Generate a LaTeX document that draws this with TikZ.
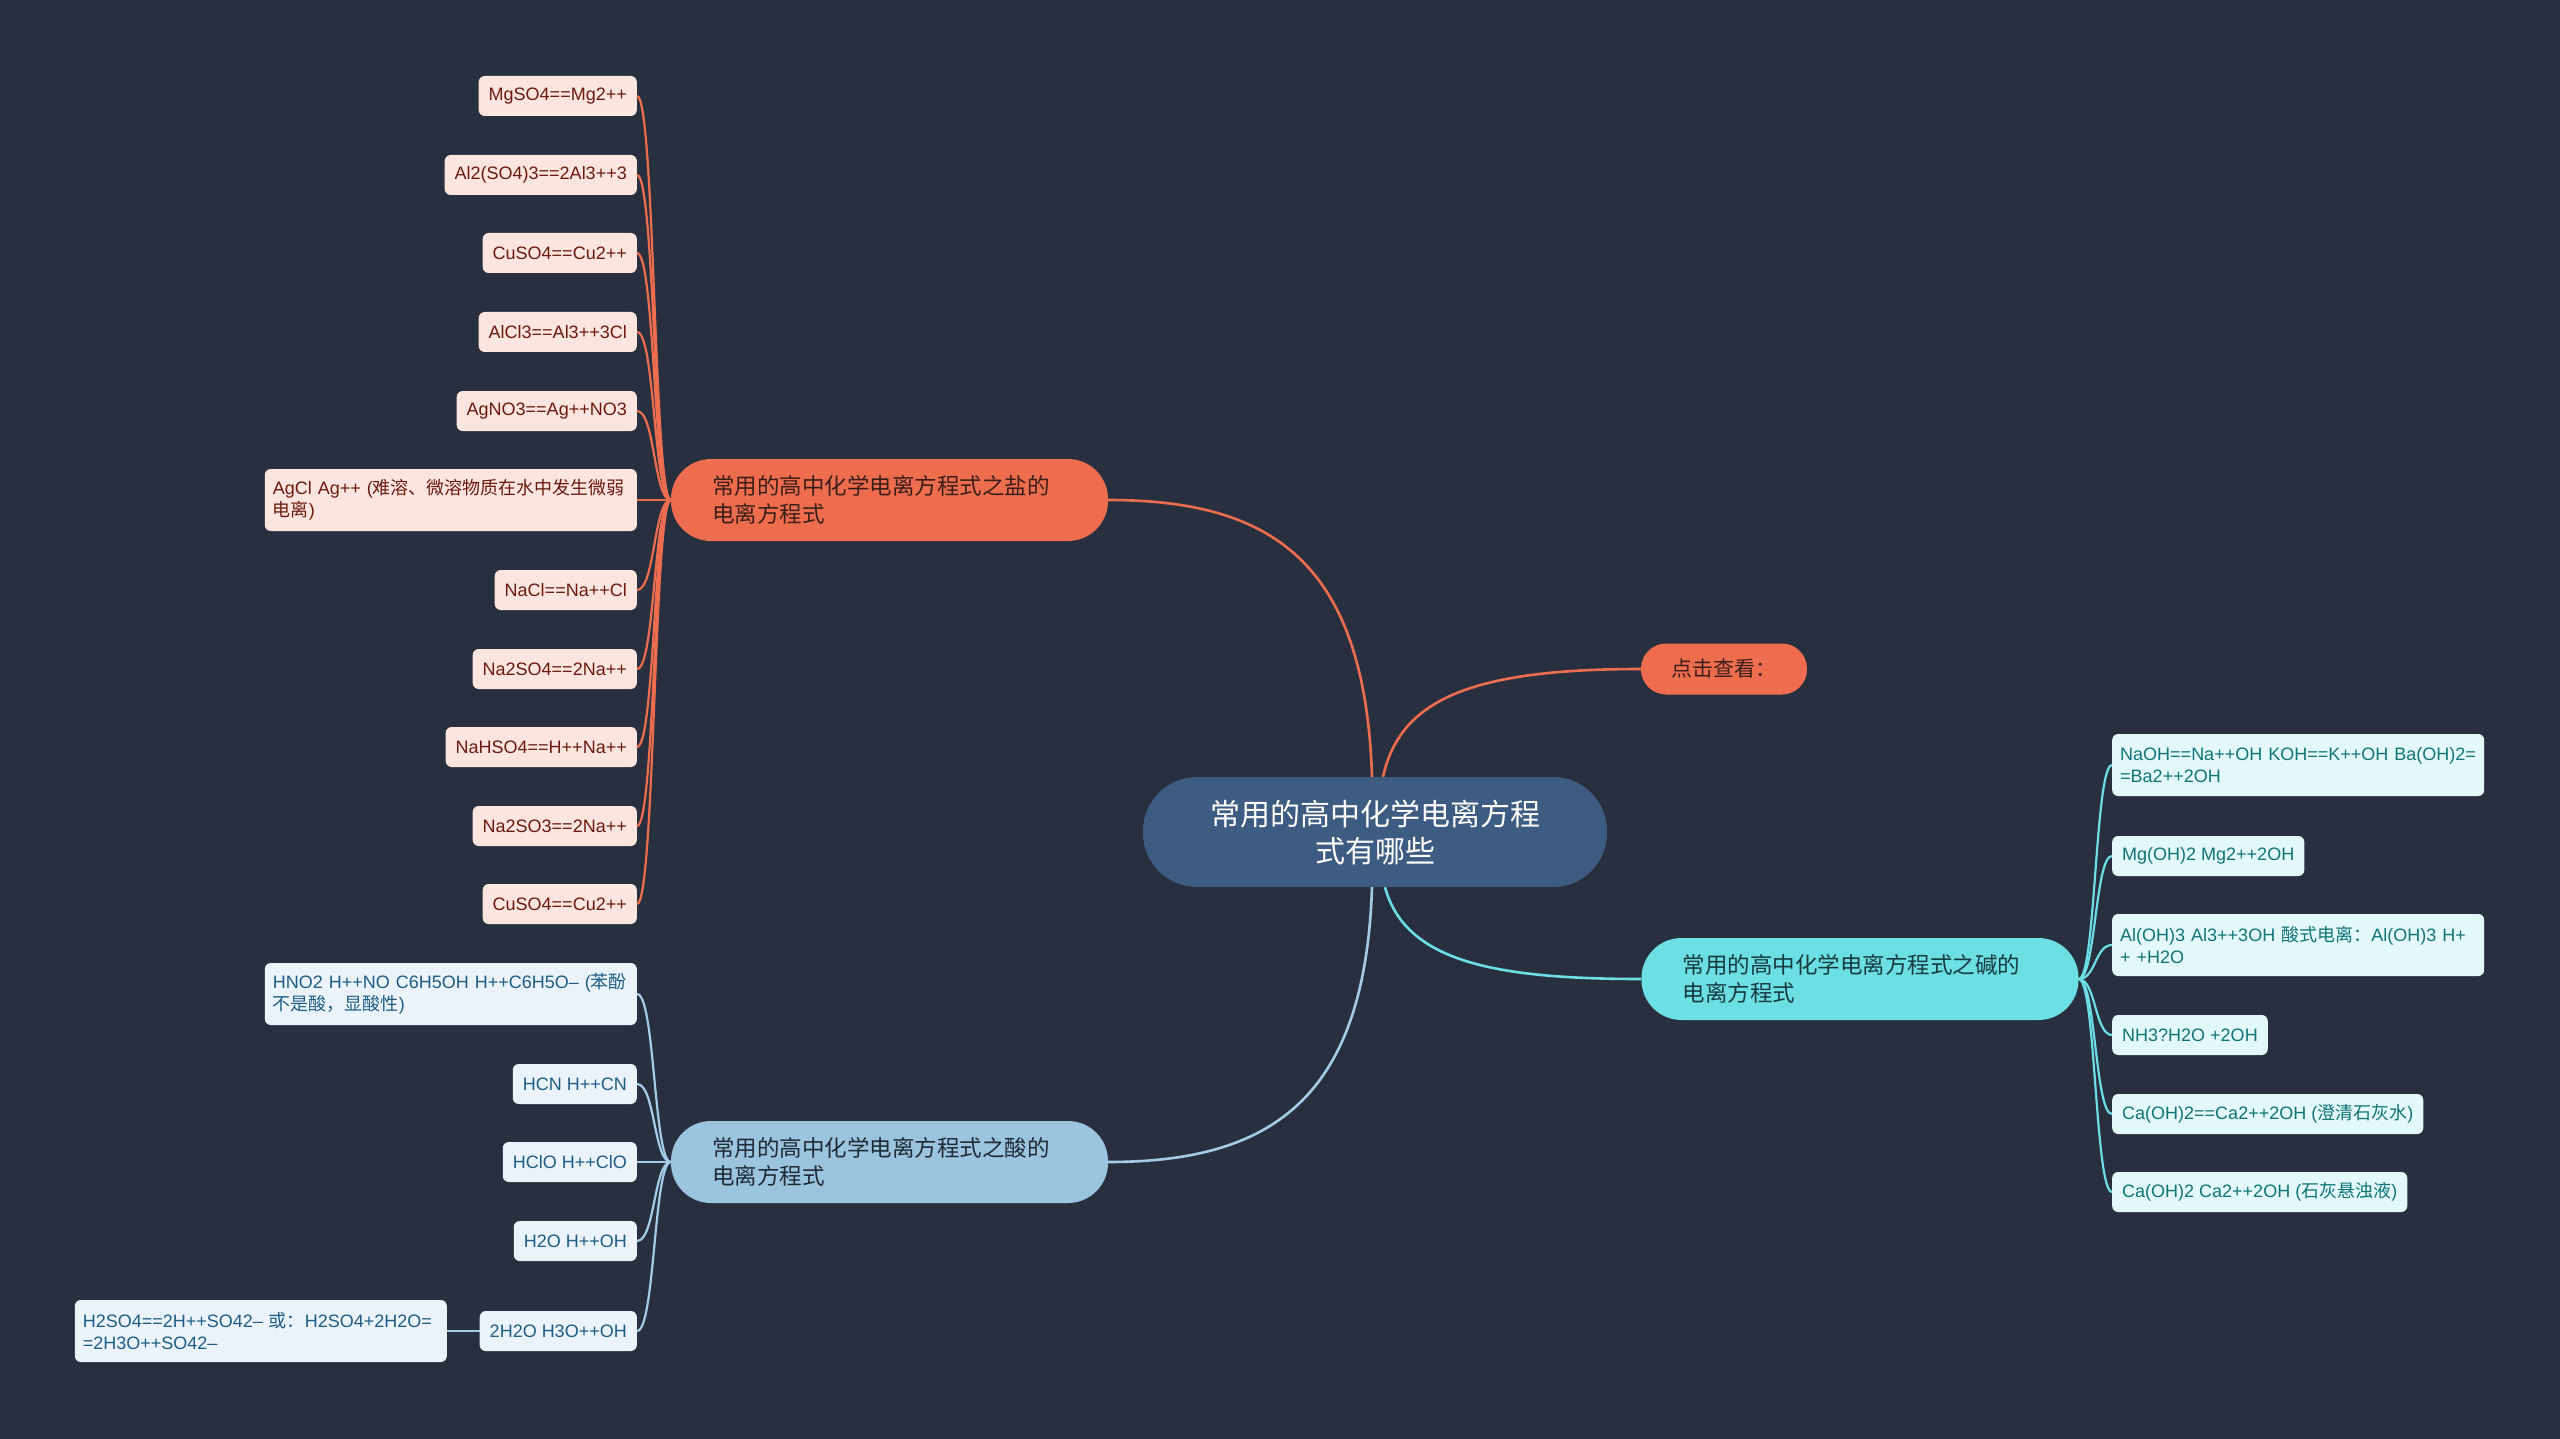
\documentclass[tikz,border=0pt]{standalone}
\usepackage{fontspec}
\setmainfont{Liberation Sans}
\newfontfamily\cjk{Noto Sans CJK SC}
\newcommand\zh[1]{{\cjk #1}}
\definecolor{bg}{HTML}{28303F}
\definecolor{rootfill}{HTML}{3E5B82}
\definecolor{saltc}{HTML}{EE6D4F}
\definecolor{saltleaf}{HTML}{FCE5DE}
\definecolor{salttext}{HTML}{6B1A0F}
\definecolor{saltnodetext}{HTML}{3A1E18}
\definecolor{acidc}{HTML}{9BC4DE}
\definecolor{acidline}{HTML}{A5CCE4}
\definecolor{acidleaf}{HTML}{EAF3F9}
\definecolor{acidtext}{HTML}{1F5D85}
\definecolor{acidnodetext}{HTML}{1E2A35}
\definecolor{basec}{HTML}{6CDFE4}
\definecolor{baseleaf}{HTML}{E2F8F9}
\definecolor{basetext}{HTML}{117478}
\definecolor{basenodetext}{HTML}{163A40}
\tikzset{
  rootnode/.style={fill=rootfill, rounded corners=54pt, minimum width=464pt, minimum height=110pt,
    align=center, text=white, inner sep=0pt, font=\cjk\fontsize{30}{37}\selectfont},
  branch/.style={rounded corners=40pt, minimum height=82pt, text width=355pt, inner xsep=41pt,
    inner ysep=0pt, align=left, font=\cjk\fontsize{22.5}{28}\selectfont},
  leaf/.style={rounded corners=6pt, inner xsep=10pt, inner ysep=0pt, minimum height=40pt,
    align=left, font=\fontsize{18}{22}\selectfont},
  wide/.style={text width=356pt, inner xsep=8pt, minimum height=62pt},
  saltleafst/.style={leaf, fill=saltleaf, text=salttext, anchor=east},
  acidleafst/.style={leaf, fill=acidleaf, text=acidtext, anchor=east},
  baseleafst/.style={leaf, fill=baseleaf, text=basetext, anchor=west},
  mainline/.style={line width=2.6pt},
  leafline/.style={line width=2.2pt},
}
\begin{document}
\begin{tikzpicture}[x=1pt,y=-1pt]
\fill[bg] (0,0) rectangle (2560,1439);
\useasboundingbox (0,0) rectangle (2560,1439);

% root and branches
\node[rootnode] (root) at (1375,832) {常用的高中化学电离方程\\式有哪些};
\node[branch, fill=saltc, text=saltnodetext] (salt) at (889.5,500) {常用的高中化学电离方程式之盐的\\电离方程式};
\node[branch, fill=acidc, text=acidnodetext] (acid) at (889.5,1162) {常用的高中化学电离方程式之酸的\\电离方程式};
\node[branch, fill=basec, text=basenodetext] (base) at (1860,979) {常用的高中化学电离方程式之碱的\\电离方程式};
\node[fill=saltc, text=saltnodetext, rounded corners=25pt, minimum width=166pt, minimum height=51pt,
  inner sep=0pt, font=\cjk\fontsize{21}{25}\selectfont] (click) at (1724,669) {点击查看：};

% salt leaves
\node[saltleafst] (s1) at (637,96) {MgSO4==Mg2++};
\node[saltleafst] (s2) at (637,175) {Al2(SO4)3==2Al3++3};
\node[saltleafst] (s3) at (637,253) {CuSO4==Cu2++};
\node[saltleafst] (s4) at (637,332) {AlCl3==Al3++3Cl};
\node[saltleafst] (s5) at (637,411) {AgNO3==Ag++NO3};
\node[saltleafst, wide] (s6) at (637,500) {AgCl Ag++ (\zh{难溶、微溶物质在水中发生微弱}\\\zh{电离})};
\node[saltleafst] (s7) at (637,590) {NaCl==Na++Cl};
\node[saltleafst] (s8) at (637,669) {Na2SO4==2Na++};
\node[saltleafst] (s9) at (637,747) {NaHSO4==H++Na++};
\node[saltleafst] (s10) at (637,826) {Na2SO3==2Na++};
\node[saltleafst] (s11) at (637,904) {CuSO4==Cu2++};

% acid leaves
\node[acidleafst, wide] (a1) at (637,994) {HNO2 H++NO C6H5OH H++C6H5O– (\zh{苯酚}\\\zh{不是酸，显酸性})};
\node[acidleafst] (a2) at (637,1084) {HCN H++CN};
\node[acidleafst] (a3) at (637,1162) {HClO H++ClO};
\node[acidleafst] (a4) at (637,1241) {H2O H++OH};
\node[acidleafst] (a5) at (637,1331) {2H2O H3O++OH};
\node[acidleafst, wide] (a6) at (447,1331) {H2SO4==2H++SO42– \zh{或：}H2SO4+2H2O=\\=2H3O++SO42–};

% base leaves
\node[baseleafst, wide] (b1) at (2112,765) {NaOH==Na++OH KOH==K++OH Ba(OH)2=\\=Ba2++2OH};
\node[baseleafst] (b2) at (2112,856) {Mg(OH)2 Mg2++2OH};
\node[baseleafst, wide] (b3) at (2112,945) {Al(OH)3 Al3++3OH \zh{酸式电离：}Al(OH)3 H+\\+ +H2O};
\node[baseleafst] (b4) at (2112,1035) {NH3?H2O +2OH};
\node[baseleafst] (b5) at (2112,1114) {Ca(OH)2==Ca2++2OH (\zh{澄清石灰水})};
\node[baseleafst] (b6) at (2112,1192) {Ca(OH)2 Ca2++2OH (\zh{石灰悬浊液})};

% root connectors
\draw[mainline, saltc] ([xshift=-3pt]root.north) .. controls (1365,560) and (1270,500) .. (salt.east);
\draw[mainline, saltc] ([xshift=8pt]root.north) .. controls (1400,700) and (1470,669) .. (click.west);
\draw[mainline, basec] ([xshift=10pt]root.south) .. controls (1405,960) and (1490,979) .. (base.west);
\draw[mainline, acidline] ([xshift=-3pt]root.south) .. controls (1365,1100) and (1270,1162) .. (acid.east);

% leaf connectors
\foreach \n in {s1,s2,s3,s4,s5,s6,s7,s8,s9,s10,s11}
  \draw[leafline, saltc] (salt.west) .. controls ([xshift=-17pt]salt.west) and ([xshift=18pt]\n.east) .. (\n.east);
\foreach \n in {a1,a2,a3,a4,a5}
  \draw[leafline, acidline] (acid.west) .. controls ([xshift=-17pt]acid.west) and ([xshift=18pt]\n.east) .. (\n.east);
\draw[leafline, acidline] (a5.west) -- (a6.east);
\foreach \n in {b1,b2,b3,b4,b5,b6}
  \draw[leafline, basec] (base.east) .. controls ([xshift=17pt]base.east) and ([xshift=-17pt]\n.west) .. (\n.west);
\end{tikzpicture}
\end{document}
